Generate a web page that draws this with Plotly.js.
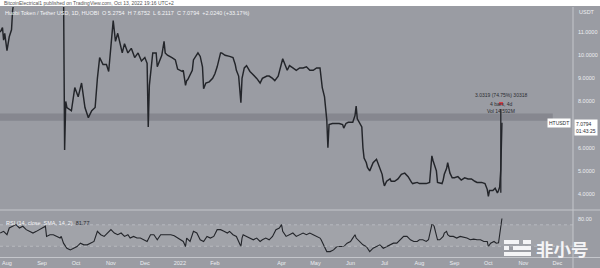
<!DOCTYPE html>
<html><head><meta charset="utf-8">
<script src="https://cdn.plot.ly/plotly-3.0.1.min.js"></script>
<style>html,body{margin:0;padding:0;background:#9a9ca3;}#chart{width:600px;height:268px;}</style>
</head><body><div id="chart"></div>
<script>
// ---- data ----
const priceDates = ['2021-07-26','2021-07-28','2021-07-29','2021-07-30','2021-08-01','2021-08-02','2021-08-03','2021-08-05','2021-08-06','2021-08-10','2021-08-16','2021-08-22','2021-08-28','2021-09-03','2021-09-08','2021-09-14','2021-09-20','2021-09-21','2021-09-22','2021-09-23','2021-09-27','2021-09-30','2021-10-03','2021-10-06','2021-10-09','2021-10-12','2021-10-15','2021-10-18','2021-10-20','2021-10-22','2021-10-25','2021-10-28','2021-10-30','2021-11-02','2021-11-03','2021-11-05','2021-11-07','2021-11-11','2021-11-13','2021-11-16','2021-11-19','2021-11-22','2021-11-25','2021-11-28','2021-12-01','2021-12-03','2021-12-04','2021-12-05','2021-12-08','2021-12-11','2021-12-12','2021-12-16','2021-12-18','2021-12-19','2021-12-21','2021-12-25','2021-12-28','2021-12-30','2022-01-03','2022-01-04','2022-01-06','2022-01-07','2022-01-08','2022-01-12','2022-01-13','2022-01-17','2022-01-19','2022-01-21','2022-01-22','2022-01-24','2022-01-27','2022-01-30','2022-02-01','2022-02-03','2022-02-06','2022-02-07','2022-02-10','2022-02-14','2022-02-17','2022-02-19','2022-02-20','2022-02-22','2022-02-24','2022-02-25','2022-02-27','2022-03-01','2022-03-04','2022-03-06','2022-03-10','2022-03-13','2022-03-15','2022-03-19','2022-03-21','2022-03-24','2022-03-26','2022-03-29','2022-04-01','2022-04-02','2022-04-06','2022-04-08','2022-04-11','2022-04-14','2022-04-17','2022-04-20','2022-04-23','2022-04-26','2022-04-29','2022-05-02','2022-05-05','2022-05-06','2022-05-07','2022-05-09','2022-05-10','2022-05-11','2022-05-12','2022-05-13','2022-05-16','2022-05-19','2022-05-22','2022-05-25','2022-05-26','2022-05-28','2022-05-30','2022-06-02','2022-06-03','2022-06-05','2022-06-06','2022-06-07','2022-06-11','2022-06-12','2022-06-13','2022-06-15','2022-06-16','2022-06-18','2022-06-20','2022-06-21','2022-06-24','2022-06-25','2022-06-27','2022-06-29','2022-06-30','2022-07-01','2022-07-03','2022-07-06','2022-07-07','2022-07-10','2022-07-13','2022-07-16','2022-07-19','2022-07-22','2022-07-25','2022-07-26','2022-07-30','2022-08-01','2022-08-04','2022-08-07','2022-08-10','2022-08-12','2022-08-13','2022-08-14','2022-08-16','2022-08-17','2022-08-21','2022-08-22','2022-08-23','2022-08-25','2022-08-26','2022-08-28','2022-08-30','2022-09-01','2022-09-04','2022-09-07','2022-09-10','2022-09-13','2022-09-16','2022-09-19','2022-09-21','2022-09-25','2022-09-28','2022-09-30','2022-10-01','2022-10-02','2022-10-05','2022-10-07','2022-10-09','2022-10-10','2022-10-11','2022-10-12','2022-10-13'];
const priceValues = [11.0,11.2,10.65,10.95,10.2,10.5,10.8,11.1,11.95,13.2,13.8,14.6,14.2,15.0,13.6,14.0,13.2,5.9,8.0,7.74,7.6,8.6,8.2,8.8,7.74,7.3,7.6,7.74,9.0,9.9,9.6,9.6,9.3,11.2,11.5,10.6,10.95,10.1,10.5,10.1,10.3,9.9,10.1,9.75,9.9,9.65,6.9,8.7,10.1,10.1,9.5,10.0,10.6,10.1,10.0,9.9,9.8,9.4,9.3,9.35,8.7,8.9,8.95,9.35,9.8,10.1,9.95,9.5,8.55,8.8,8.85,9.0,9.2,9.5,10.1,10.1,10.0,9.95,9.9,9.6,9.35,9.1,7.95,9.0,9.45,9.55,9.3,9.2,9.0,8.8,9.0,9.1,9.1,9.0,8.9,9.1,9.65,9.85,9.35,9.55,9.45,9.35,9.45,9.45,9.5,9.35,9.35,9.45,9.45,9.0,8.6,8.2,7.6,7.2,6.0,7.0,7.05,7.05,7.05,7.0,6.85,7.05,7.1,7.1,7.1,7.4,7.8,7.25,6.9,6.0,5.55,5.35,5.15,5.0,5.3,5.35,5.5,5.35,5.1,4.85,4.55,4.35,4.55,4.65,4.55,4.55,4.65,4.85,4.9,4.75,4.5,4.45,4.5,4.45,4.45,4.45,4.5,5.65,5.45,5.3,5.0,4.5,4.45,4.6,4.85,5.1,5.35,4.9,4.7,4.7,4.75,4.6,4.7,4.65,4.65,4.55,4.5,4.5,4.45,4.2,3.9,4.15,4.15,4.25,4.05,4.15,4.3,5.06,7.08];

const rsiDates = ['2021-07-26','2021-07-29','2021-08-01','2021-08-03','2021-08-06','2021-08-09','2021-08-12','2021-08-15','2021-08-18','2021-08-21','2021-08-24','2021-08-27','2021-08-30','2021-09-02','2021-09-04','2021-09-05','2021-09-08','2021-09-11','2021-09-14','2021-09-17','2021-09-18','2021-09-20','2021-09-23','2021-09-26','2021-09-29','2021-10-02','2021-10-05','2021-10-08','2021-10-11','2021-10-14','2021-10-17','2021-10-20','2021-10-23','2021-10-26','2021-10-29','2021-11-01','2021-11-04','2021-11-07','2021-11-10','2021-11-13','2021-11-16','2021-11-18','2021-11-21','2021-11-24','2021-11-27','2021-11-30','2021-12-03','2021-12-06','2021-12-09','2021-12-12','2021-12-15','2021-12-18','2021-12-21','2021-12-24','2021-12-27','2021-12-30','2022-01-02','2022-01-04','2022-01-06','2022-01-07','2022-01-10','2022-01-13','2022-01-16','2022-01-19','2022-01-22','2022-01-25','2022-01-28','2022-01-31','2022-02-03','2022-02-06','2022-02-09','2022-02-12','2022-02-14','2022-02-17','2022-02-20','2022-02-22','2022-02-24','2022-02-25','2022-02-26','2022-03-01','2022-03-04','2022-03-07','2022-03-10','2022-03-13','2022-03-15','2022-03-18','2022-03-21','2022-03-24','2022-03-27','2022-03-30','2022-04-01','2022-04-02','2022-04-05','2022-04-08','2022-04-11','2022-04-14','2022-04-17','2022-04-20','2022-04-23','2022-04-26','2022-04-29','2022-05-02','2022-05-05','2022-05-06','2022-05-08','2022-05-11','2022-05-14','2022-05-17','2022-05-20','2022-05-23','2022-05-26','2022-05-29','2022-06-01','2022-06-03','2022-06-05','2022-06-06','2022-06-09','2022-06-12','2022-06-15','2022-06-18','2022-06-21','2022-06-24','2022-06-27','2022-06-30','2022-07-03','2022-07-06','2022-07-09','2022-07-12','2022-07-15','2022-07-18','2022-07-21','2022-07-24','2022-07-27','2022-07-30','2022-08-01','2022-08-04','2022-08-07','2022-08-09','2022-08-12','2022-08-13','2022-08-14','2022-08-16','2022-08-17','2022-08-19','2022-08-22','2022-08-23','2022-08-25','2022-08-26','2022-08-28','2022-08-31','2022-09-03','2022-09-06','2022-09-09','2022-09-12','2022-09-15','2022-09-18','2022-09-21','2022-09-24','2022-09-27','2022-09-30','2022-10-01','2022-10-03','2022-10-06','2022-10-08','2022-10-10','2022-10-11','2022-10-12','2022-10-13'];
const rsiValues = [54.7,57.8,51.6,64.1,67.3,70.4,64.1,67.3,61,57.8,54.7,57.8,61,64.1,67.3,48.4,51.6,51.6,48.4,45.3,48.4,35.8,26.4,23.3,26.4,29.5,35.8,32.7,32.7,35.8,39,57.8,51.6,48.4,54.7,61,54.7,51.6,54.7,48.4,51.6,45.3,48.4,45.3,45.3,42.1,39,51.6,51.6,42.1,51.6,51.6,51.6,51.6,49.7,45.3,42.1,39,29.5,45.3,39,57.8,54.7,42.1,39,48.4,45.3,48.4,61,61,57.8,54.7,57.8,51.6,48.4,39,29.5,45.3,51.6,48.4,45.3,42.1,45.3,39,42.1,45.3,42.1,48.4,61,64.1,70.4,57.8,48.4,51.6,54.7,48.4,51.6,54.7,51.6,54.7,51.6,48.4,45.3,42.1,32.7,20.1,20.1,23.3,29.5,29.5,29.5,35.8,39,45.3,51.6,45.3,39,32.7,29.5,20.1,26.4,29.5,32.7,26.4,29.5,32.7,35.8,35.8,42.1,48.4,48.4,42.1,39,39,42.1,42.1,39,42.1,70.4,70.4,67.3,48.4,42.1,42.1,48.4,54.7,57.8,51.6,48.4,48.4,45.3,48.4,47.2,45.3,42.1,43.4,42.1,42.1,39,39,29.5,35.8,39,35.8,36.5,50,70.4,81.77];

const monthTickDates = ['2021-08-01','2021-09-01','2021-10-01','2021-11-01','2021-12-01','2022-01-01','2022-02-01','2022-04-01','2022-05-01','2022-06-01','2022-07-01','2022-08-01','2022-09-01','2022-10-01','2022-11-01','2022-12-01'];
const monthTickLabels = ['Aug','Sep','Oct','Nov','Dec','2022','Feb','Apr','May','Jun','Jul','Aug','Sep','Oct','Nov','Dec'];
const priceTickVals = [4,5,6,8,9,10,11];
const priceTickText = ['4.0000','5.0000','6.0000','8.0000','9.0000','10.0000','11.0000'];
const rsiTickVals = [80];
const rsiTickText = ['80.00'];
const zoneLow = 7.17, zoneHigh = 7.48;            // grey resistance band
const measureDate = ['2022-10-12'];
const measureLow = [4.0475], measureHigh = [7.6752]; // measured move
const lastPrice = 7.0794;

// ---- pixel helpers for layout-only placement ----
const PL=0, PR=573, PT=7, PB=258;
const px = v => (v-PL)/(PR-PL);
const py = v => (PB-v)/(PB-PT);

const BG='#9a9ca3', TXT='#eceef1', LINE='#23252a';
const F = 'Liberation Sans, Arial, sans-serif';

const traces = [
  {type:'scatter', mode:'lines', x:priceDates, y:priceValues, xaxis:'x', yaxis:'y',
   line:{color:LINE, width:1.45}, hoverinfo:'skip'},
  {type:'scatter', mode:'lines', x:rsiDates, y:rsiValues, xaxis:'x', yaxis:'y2',
   line:{color:LINE, width:1.1}, hoverinfo:'skip'}
];

const shapes = [
  {type:'rect', xref:'paper', yref:'paper', x0:-0.01, x1:1.06, y0:py(6), y1:py(-2), fillcolor:'#ffffff', line:{width:0}, layer:'above'},
  {type:'rect', xref:'x', yref:'y', x0:'2021-07-20', x1:'2022-11-27', y0:zoneLow, y1:zoneHigh, fillcolor:'rgba(70,72,80,0.24)', line:{width:0}, layer:'below'},
  {type:'rect', xref:'paper', yref:'y2', x0:0, x1:1, y0:30, y1:70, fillcolor:'rgba(255,255,255,0.07)', line:{width:0}, layer:'below'},
  {type:'line', xref:'paper', yref:'y2', x0:0, x1:1, y0:70, y1:70, line:{color:'rgba(230,232,236,0.45)', width:0.8, dash:'dot'}},
  {type:'line', xref:'paper', yref:'y2', x0:0, x1:1, y0:30, y1:30, line:{color:'rgba(230,232,236,0.45)', width:0.8, dash:'dot'}},
  {type:'line', xref:'paper', yref:'paper', x0:0, x1:px(600), y0:py(210), y1:py(210), line:{color:'#c4c6cb', width:1}},
  {type:'line', xref:'paper', yref:'paper', x0:0, x1:px(600), y0:py(257.5), y1:py(257.5), line:{color:'#c4c6cb', width:1}},
  {type:'line', xref:'paper', yref:'paper', x0:1, x1:1, y0:py(268), y1:py(7), line:{color:'#c4c6cb', width:1}},
  {type:'line', xref:'x', yref:'y', x0:measureDate[0], x1:measureDate[0], y0:measureLow[0], y1:measureHigh[0], line:{color:LINE, width:1.3}},
  // small red handle on the measure label
  {type:'rect', xref:'paper', yref:'paper', x0:px(499), x1:px(503), y0:py(105), y1:py(102), fillcolor:'#d6404a', line:{width:0}, layer:'above'},
  // watermark logo pills
  {type:'rect', xref:'paper', yref:'paper', x0:px(504), x1:px(519), y0:py(244), y1:py(240), fillcolor:'#f4f4f6', line:{width:0}, layer:'above'},
  {type:'rect', xref:'paper', yref:'paper', x0:px(523), x1:px(531), y0:py(244), y1:py(240), fillcolor:'#f4f4f6', line:{width:0}, layer:'above'},
  {type:'rect', xref:'paper', yref:'paper', x0:px(504), x1:px(509), y0:py(250), y1:py(246), fillcolor:'#f4f4f6', line:{width:0}, layer:'above'},
  {type:'rect', xref:'paper', yref:'paper', x0:px(513), x1:px(531), y0:py(250), y1:py(246), fillcolor:'#f4f4f6', line:{width:0}, layer:'above'},
  {type:'rect', xref:'paper', yref:'paper', x0:px(504), x1:px(531), y0:py(256), y1:py(252), fillcolor:'#f4f4f6', line:{width:0}, layer:'above'}
];

const ann = (o) => Object.assign({showarrow:false, xref:'paper', yref:'paper', font:{family:F, size:5.5, color:TXT}}, o);
const annotations = [
  ann({x:px(2), y:py(3), xanchor:'left', yanchor:'middle', text:'BitcoinElectrical1 published on TradingView.com, Oct 13, 2022 19:16 UTC+2', font:{family:F, size:5, color:'#555'}}),
  ann({x:px(3), y:py(13.5), xanchor:'left', yanchor:'middle', text:'Huobi Token / Tether USD, 1D, HUOBI  O 5.2754  H 7.6752  L 6.2117  C 7.0794  +2.0240 (+33.17%)', font:{family:F, size:5.5, color:'#f4f5f7'}}),
  ann({x:px(577), y:py(12), xanchor:'left', yanchor:'middle', text:'USDT', font:{family:F, size:5.5, color:TXT}}),
  ann({x:px(4), y:py(223), xanchor:'left', yanchor:'middle', text:'RSI (14, close, SMA, 14, 2)  <span style="color:#2a2c31">81.77</span>', font:{family:F, size:5.5, color:'#f4f5f7'}}),
  ann({xref:'x', yref:'paper', x:measureDate[0], y:py(95), xanchor:'center', yanchor:'middle', text:'3.0319 (74.75%) 30318', font:{family:F, size:5, color:'#2a2c31'}}),
  ann({xref:'x', yref:'paper', x:measureDate[0], y:py(103.5), xanchor:'center', yanchor:'middle', text:'4 bars, 4d', font:{family:F, size:5, color:'#2a2c31'}}),
  ann({xref:'x', yref:'paper', x:measureDate[0], y:py(111), xanchor:'center', yanchor:'middle', text:'Vol 14.592M', font:{family:F, size:5, color:'#2a2c31'}}),
  ann({x:px(571), yref:'y', y:lastPrice, xanchor:'right', yanchor:'middle', text:'HTUSDT', bgcolor:'#ffffff', borderpad:1, font:{family:F, size:5, color:'#2a2c31'}}),
  ann({x:px(574), yref:'y', y:lastPrice, yshift:4, xanchor:'left', yanchor:'top', align:'left', text:'7.0794<br>01:43:25', bgcolor:'#ffffff', borderpad:1, font:{family:F, size:5, color:'#2a2c31'}}),
  ann({x:px(534), y:py(248), xanchor:'left', yanchor:'middle', text:'<b>非小号</b>', font:{family:'Noto Sans CJK SC', size:17.5, color:'#f4f4f6'}})
];

const layout = {
  width:600, height:268,
  margin:{l:PL, r:600-PR, t:PT, b:268-PB},
  paper_bgcolor:BG, plot_bgcolor:BG, showlegend:false,
  xaxis:{type:'date', anchor:'y2', range:['2021-07-25 19:30','2022-12-14 21:30'],
    tickmode:'array', tickvals:monthTickDates, ticktext:monthTickLabels,
    tickfont:{family:F, size:5.5, color:TXT}, showgrid:false, zeroline:false, showline:false, ticks:'', fixedrange:true},
  yaxis:{domain:[py(209),1], range:[3.35,12.087], side:'right', anchor:'x',
    tickmode:'array', tickvals:priceTickVals, ticktext:priceTickText,
    tickfont:{family:F, size:5.5, color:TXT}, showgrid:false, zeroline:false, showline:false, ticks:'', ticklabelstandoff:4},
  yaxis2:{domain:[0,py(211)], range:[8.2,95.7], side:'right', anchor:'x',
    tickmode:'array', tickvals:rsiTickVals, ticktext:rsiTickText,
    tickfont:{family:F, size:5.5, color:TXT}, showgrid:false, zeroline:false, showline:false, ticks:'', ticklabelstandoff:4},
  shapes:shapes, annotations:annotations
};

Plotly.newPlot('chart', traces, layout, {staticPlot:true, displayModeBar:false});
</script></body></html>
